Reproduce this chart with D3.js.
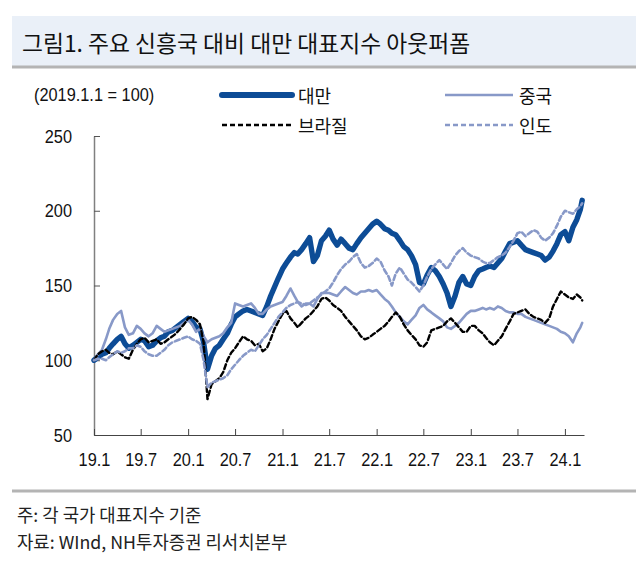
<!DOCTYPE html>
<html>
<head>
<meta charset="utf-8">
<script src="https://cdn.jsdelivr.net/npm/d3@7/dist/d3.min.js"></script>
<style>
  html, body { margin: 0; padding: 0; background: #fff; }
  svg { display: block; }
</style>
</head>
<body>
<svg id="chart" width="644" height="563"></svg>
<script>
// ---------------- DATA ----------------
const titleText = "그림1. 주요 신흥국 대비 대만 대표지수 아웃퍼폼";
const unitText = "(2019.1.1 = 100)";
const seriesNames = ["대만", "중국", "브라질", "인도"];
const noteText = "주: 각 국가 대표지수 기준";
const sourceText = "자료: WInd, NH투자증권 리서치본부";

// semi-monthly observation dates: 1st and 16th of each month, Jan 2019 .. Mar 2024, plus last obs
const dates = [];
for (let yr = 2019; yr <= 2024; yr++) {
  for (let m = 0; m < 12; m++) {
    if (yr === 2024 && m > 2) break;
    dates.push(new Date(yr, m, 1));
    if (!(yr === 2024 && m === 2)) dates.push(new Date(yr, m, 16));
  }
}
dates.push(new Date(2024, 2, 8));

const taiwan = [100,102,104,105,108,111,114,116,111,108,
 110,112,114,113,109,110,113,115,116,119,
 120,122,124,126,128,126,122,121,112,94,
 103,108,110,114,118,124,129,131,133,134,
 133,132,131,130,136,143,149,155,161,165,
 169,172,171,174,178,182,166,170,180,183,
 187,181,177,181,178,175,174,178,182,185,
 188,191,193,191,188,187,185,184,180,176,
 174,170,164,152,151,157,162,160,156,151,
 145,136,143,152,156,151,150,156,160,161,
 162,163,162,165,168,173,178,179,180,177,
 174,173,172,171,170,167,169,173,178,184,
 186,180,189,194,201,207];

const china = [100,104,107,114,121,127,131,133,122,117,
 118,123,121,118,116,118,123,121,119,120,
 121,122,123,125,127,124,119,121,116,112,
 114,115,116,118,122,125,138,137,136,137,
 138,135,131,131,134,136,137,138,139,143,
 148,143,139,136,138,138,136,141,145,145,
 145,144,143,146,149,147,145,144,146,146,
 147,146,147,144,141,139,136,132,129,126,
 124,127,130,135,137,134,132,130,128,126,
 122,121,123,125,128,131,133,133,134,135,
 134,135,134,136,135,133,132,132,131,131,
 129,128,127,126,125,124,123,122,121,119,
 118,116,112,118,122,125];

const brazil = [100,104,106,107,105,104,106,104,102,101,
 107,111,114,115,112,113,114,111,112,114,
 116,118,121,124,128,129,127,124,112,74,
 84,86,88,92,100,105,108,112,116,114,
 113,110,111,106,108,114,121,126,131,133,
 128,125,122,125,128,130,133,136,141,142,
 140,137,135,133,129,126,123,120,116,114,
 115,117,119,121,123,126,129,132,129,124,
 120,117,114,110,109,112,120,121,122,123,
 126,128,125,122,119,119,123,123,120,118,
 115,112,110,113,116,121,126,131,132,133,
 134,131,129,128,127,125,128,136,141,146,
 144,142,141,144,142,140];

const india = [100,101,101,100,102,104,106,105,106,108,
 108,110,109,106,104,103,103,105,107,110,
 112,113,114,115,116,114,113,111,100,82,
 85,86,87,88,90,94,97,100,103,105,
 107,106,110,114,117,121,125,129,132,135,
 137,138,139,138,137,138,140,142,144,146,
 148,152,157,161,164,166,169,171,165,162,
 163,165,168,166,160,156,150,158,162,158,
 154,152,149,146,150,156,161,164,167,164,
 161,165,170,173,175,172,170,169,168,166,
 165,165,167,169,170,172,176,180,185,186,
 183,185,187,186,182,180,182,185,190,196,
 200,199,198,201,203,205];

const xTickLabels = ["19.1","19.7","20.1","20.7","21.1","21.7","22.1","22.7","23.1","23.7","24.1"];
const xTickDates = [[2019,0],[2019,6],[2020,0],[2020,6],[2021,0],[2021,6],[2022,0],[2022,6],[2023,0],[2023,6],[2024,0]];
const yTicks = [50, 100, 150, 200, 250];

// ---------------- STYLE ----------------
const latin = "'Liberation Sans', Arial, sans-serif";
const kor = "'Noto Sans CJK KR', 'Noto Sans', sans-serif";
const colTaiwan = "#0d4c96";
const colLight = "#8899c8";
const narrow = 0.86;

// horizontally condense a text element around its own anchor x
function condense(sel) {
  sel.each(function () {
    const t = d3.select(this);
    const ax = +t.attr("x") || 0;
    t.attr("transform", `translate(${ax},0) scale(${narrow},1) translate(${-ax},0)`);
  });
}

const svg = d3.select("#chart");

// title band
svg.append("rect").attr("x", 12).attr("y", 16).attr("width", 624).attr("height", 50).attr("fill", "#eaf0f8");
svg.append("line").attr("x1", 12).attr("x2", 636).attr("y1", 67).attr("y2", 67)
  .attr("stroke", "#b4b4b4").attr("stroke-width", 3);
svg.append("text").attr("x", 22).attr("y", 42).attr("dominant-baseline", "central")
  .attr("font-family", kor).attr("font-size", 22.8).attr("fill", "#111").text(titleText);

// scales
const x = d3.scaleTime().domain([new Date(2019,0,1), new Date(2024,2,15)]).range([94, 584]);
const y = d3.scaleLinear().domain([50, 250]).range([435, 136]);

// axes
const yAxis = d3.axisLeft(y).tickValues(yTicks).tickSize(-6).tickSizeOuter(0).tickPadding(22);
const gy = svg.append("g").attr("transform", "translate(94,0)").call(yAxis);
gy.select(".domain").attr("stroke", "#808080").attr("stroke-width", 1.5);
gy.selectAll(".tick line").attr("stroke", "#555");
gy.selectAll(".tick text").attr("font-family", latin).attr("font-size", 19).attr("fill", "#111").call(condense);

const xAxis = d3.axisBottom(x).tickValues(xTickDates.map(d => new Date(d[0], d[1], 1)))
  .tickFormat((d, i) => xTickLabels[i]).tickSize(-6).tickSizeOuter(0).tickPadding(18);
const gx = svg.append("g").attr("transform", "translate(0,435)").call(xAxis);
gx.select(".domain").attr("stroke", "#444").attr("stroke-width", 1);
gx.selectAll(".tick line").attr("stroke", "#444");
gx.selectAll(".tick text").attr("font-family", latin).attr("font-size", 19).attr("fill", "#111").call(condense);

// lines
const mk = arr => arr.map((v, i) => ({date: dates[i], v: v}));
const line = d3.line().x(d => x(d.date)).y(d => y(d.v));
const defs = [
  {data: taiwan, color: colTaiwan, w: 5.4, dash: null},
  {data: china, color: colLight, w: 2.6, dash: null},
  {data: brazil, color: "#000", w: 2.4, dash: "5,3"},
  {data: india, color: colLight, w: 2.6, dash: "5,3"}
];
defs.forEach(s => {
  svg.append("path").datum(mk(s.data)).attr("d", line)
    .attr("fill", "none").attr("stroke", s.color).attr("stroke-width", s.w)
    .attr("stroke-linejoin", "round").attr("stroke-linecap", "round")
    .attr("stroke-dasharray", s.dash);
});

// legend
svg.append("text").attr("x", 34).attr("y", 95).attr("dominant-baseline", "central")
  .attr("font-family", latin).attr("font-size", 19).attr("fill", "#111").text(unitText).call(condense);
const leg = [
  {name: seriesNames[0], x1: 222, x2: 292, y: 95, color: colTaiwan, w: 6, dash: null, cap: "round"},
  {name: seriesNames[1], x1: 445, x2: 513, y: 95, color: colLight, w: 2.5, dash: null, cap: "butt"},
  {name: seriesNames[2], x1: 222, x2: 292, y: 125, color: "#000", w: 2.5, dash: "5,3", cap: "butt"},
  {name: seriesNames[3], x1: 445, x2: 513, y: 125, color: colLight, w: 2.5, dash: "5,3", cap: "butt"}
];
leg.forEach(l => {
  svg.append("line").attr("x1", l.x1).attr("x2", l.x2).attr("y1", l.y).attr("y2", l.y)
    .attr("stroke", l.color).attr("stroke-width", l.w).attr("stroke-linecap", l.cap)
    .attr("stroke-dasharray", l.dash);
  svg.append("text").attr("x", l.x2 + 6).attr("y", l.y).attr("dominant-baseline", "central")
    .attr("font-family", kor).attr("font-size", 18).attr("fill", "#111").text(l.name);
});

// footer
svg.append("line").attr("x1", 12).attr("x2", 636).attr("y1", 491).attr("y2", 491)
  .attr("stroke", "#b4b4b4").attr("stroke-width", 3);
svg.append("text").attr("x", 17).attr("y", 514).attr("dominant-baseline", "central")
  .attr("font-family", kor).attr("font-size", 17.8).attr("fill", "#222").text(noteText);
svg.append("text").attr("x", 17).attr("y", 541).attr("dominant-baseline", "central")
  .attr("font-family", kor).attr("font-size", 17.8).attr("fill", "#222").text(sourceText);
</script>
</body>
</html>
